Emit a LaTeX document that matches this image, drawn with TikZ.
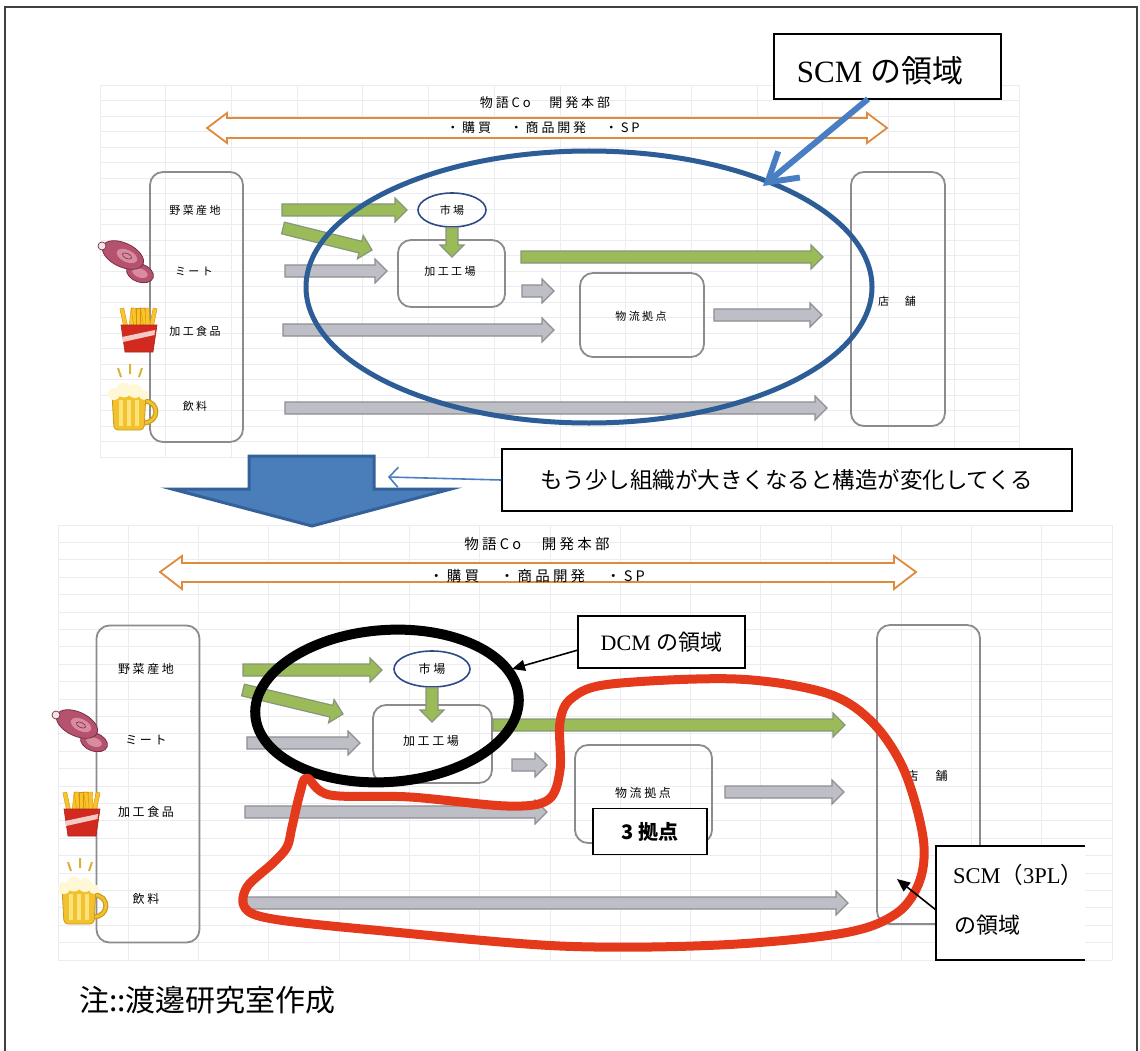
\documentclass[tikz,border=0pt]{standalone}
\usepackage{fontspec}
\setmainfont{Liberation Serif}
\newfontfamily\jp{Noto Sans CJK JP}
\newfontfamily\jpsp{Noto Sans CJK JP}[LetterSpace=22]
\usetikzlibrary{shapes.geometric,arrows.meta,calc}

\definecolor{gridline}{HTML}{ECECF0}
\definecolor{boxgray}{HTML}{8C8C8C}
\definecolor{arrgreen}{HTML}{9BBB59}
\definecolor{arrgreenline}{HTML}{86977A}
\definecolor{arrgray}{HTML}{BEBEC6}
\definecolor{arrgrayline}{HTML}{8E8E94}
\definecolor{hqorange}{HTML}{E08A3C}
\definecolor{mktblue}{HTML}{2F4A86}
\definecolor{scmblue}{HTML}{2D5D97}
\definecolor{calloutblue}{HTML}{4A7EC2}
\definecolor{bigblue}{HTML}{4A7EBB}
\definecolor{bigblueline}{HTML}{34619A}
\definecolor{loopred}{HTML}{E4391B}
\definecolor{meatpink}{HTML}{B5536F}
\definecolor{meatline}{HTML}{7A2E45}
\definecolor{meatlight}{HTML}{D98BA0}
\definecolor{bonewhite}{HTML}{F3E4E8}
\definecolor{fryyellow}{HTML}{F7C52B}
\definecolor{fryline}{HTML}{D98E0B}
\definecolor{boxred}{HTML}{D32A1F}
\definecolor{beeryellow}{HTML}{F2C12E}
\definecolor{beerline}{HTML}{C99A1E}
\definecolor{beerlight}{HTML}{FBE27A}
\definecolor{foam}{HTML}{FFF8D6}
\definecolor{beerray}{HTML}{D7B33A}

% block arrow (shaft 12pt, head 24pt wide, 12pt long) between two points
\newcommand\flowarrow[3]{%
  \path[#1] let \p1=($(#3)-(#2)$), \n1={atan2(\y1,\x1)} in
    ($(#2)+({\n1+90}:6pt)$)
    -- ($(#3)+({\n1+180}:12pt)+({\n1+90}:6pt)$)
    -- ($(#3)+({\n1+180}:12pt)+({\n1+90}:12pt)$)
    -- (#3)
    -- ($(#3)+({\n1+180}:12pt)+({\n1-90}:12pt)$)
    -- ($(#3)+({\n1+180}:12pt)+({\n1-90}:6pt)$)
    -- ($(#2)+({\n1-90}:6pt)$) -- cycle;%
}

\tikzset{
  flow/.style={line width=1.2pt, line join=miter},
  gflow/.style={flow, fill=arrgreen, draw=arrgreenline},
  aflow/.style={flow, fill=arrgray, draw=arrgrayline},
  unit/.style={draw=boxgray, line width=1.8pt, rounded corners=13pt, inner sep=0pt},
  lbltop/.style={font=\jpsp\fontsize{11}{13}\selectfont, inner sep=0pt},
  lblbot/.style={font=\jpsp\fontsize{12}{14}\selectfont, inner sep=0pt},
  hqtop/.style={font=\jpsp\fontsize{13}{15}\selectfont, inner sep=0pt},
  hqbot/.style={font=\jpsp\fontsize{14.5}{16}\selectfont, inner sep=0pt},
  callout/.style={draw=black, line width=1.5pt, fill=white, inner sep=0pt},
  hqband/.style={draw=hqorange, line width=1.8pt, fill=white},
  meat/.pic={
    \draw[meatline, line width=0.8pt, fill=meatpink, shift={(17,18)}, rotate=-20] (0,0) ellipse (14 and 9);
    \fill[meatlight, shift={(17,18)}, rotate=-20] (0,0) ellipse (8 and 4.5);
    \draw[meatline, line width=0.8pt, fill=meatpink, rotate=-25] (0,0) ellipse (22 and 12);
    \fill[meatlight, shift={(4,1)}, rotate=-25] (0,0) ellipse (11 and 6);
    \draw[meatline, line width=0.6pt, shift={(4,1)}, rotate=-25] (0,0) ellipse (5 and 2.5);
    \draw[meatline, line width=0.7pt, fill=bonewhite] (-21,-9) circle (4);
  },
  fries/.pic={
    \foreach \x/\a in {-13/12, -8/-6, -3/8, 2/-4, 7/10, 12/-12, -1/0, 9/2}
      \draw[fryline, fill=fryyellow, line width=0.4pt, shift={(\x,0)}, rotate=\a] (-2,-20) rectangle (2,2);
    \draw[boxred!80!black, line width=0.6pt, fill=boxred] (-18,-3) -- (18,-3) -- (14,24) -- (-14,24) -- cycle;
    \fill[white!75!boxred] (-17,9) -- (16,2) -- (15.5,7) -- (-16,14) -- cycle;
  },
  beer/.pic={
    \draw[beerray, line width=2pt] (-12,-38) -- (-9,-29) (0,-42) -- (0,-32) (12,-38) -- (9,-29);
    \draw[beerline, line width=5pt] (14,-5) .. controls (30,-5) and (30,17) .. (13,17);
    \draw[beeryellow, line width=2.6pt] (14,-5) .. controls (30,-5) and (30,17) .. (13,17);
    \draw[beerline, line width=0.8pt, fill=beeryellow, rounded corners=4pt] (-18,-12) -- (16,-12) -- (14,24) -- (-16,24) -- cycle;
    \foreach \x in {-9,-1,7} \fill[beerlight] (\x-1.6,-6) rectangle (\x+1.6,20);
    \fill[foam] (-16,-12) circle (6) (-6,-16) circle (7.5) (5,-15) circle (7) (14,-11) circle (5);
  }
}

\begin{document}
\begin{tikzpicture}[x=1pt,y=-1pt]
\useasboundingbox (0,0) rectangle (1140,1051);
\fill[white] (0,0) rectangle (1140,1051);

% spreadsheet cell lines behind both charts
\foreach \k in {0,...,14} \draw[gridline, line width=0.7pt] ({100+65.7*\k},85) -- ({100+65.7*\k},458);
\foreach \k in {0,...,24} \draw[gridline, line width=0.7pt] (100,{85+15.5*\k}) -- (1020,{85+15.5*\k});
\foreach \k in {0,...,15} \draw[gridline, line width=0.7pt] ({58+70.27*\k},525) -- ({58+70.27*\k},960);
\foreach \k in {0,...,25} \draw[gridline, line width=0.7pt] (58,{525+17.4*\k}) -- (1112,{525+17.4*\k});

% page frame
\draw[line width=1.5pt, black!75] (5,1051) -- (5,7) -- (1137,7) -- (1137,1051);

% ================= upper chart =================
\node[hqtop] (hq1) at (545,103) {物語Co　開発本部};
\draw[hqband] (207,128) -- (227,113) -- (227,118) -- (867,118) -- (867,113) -- (887,128)
  -- (867,143) -- (867,138) -- (227,138) -- (227,143) -- cycle;
\node[hqtop] (tasks1) at (543,128) {・購買　・商品開発　・SP};

\node[unit, minimum width=93pt, minimum height=270pt] (src1) at (196.5,307) {};
\node[unit, minimum width=94pt, minimum height=254pt] (shop1) at (898,299) {};
\node[unit, minimum width=107pt, minimum height=67pt] (fac1) at (451.5,273.5) {};
\node[unit, minimum width=124pt, minimum height=84pt] (hub1) at (642,315) {};
\node[ellipse, draw=mktblue, line width=1.6pt, minimum width=68pt, minimum height=34pt, inner sep=0pt] (mkt1) at (452,210) {};

\node[lbltop] (veg1) at (195,210) {野菜産地};
\node[lbltop] (meat1) at (194,271) {ミート};
\node[lbltop] (proc1) at (195,331) {加工食品};
\node[lbltop] (drink1) at (195,406) {飲料};
\node[lbltop] (mktl1) at (452,210) {市場};
\node[lbltop] (facl1) at (450,271) {加工工場};
\node[lbltop] (hubl1) at (641,316) {物流拠点};
\node[lbltop] (shopl1) at (897,301) {店　舗};

\pic (meaticon1) at (123,255) {meat};
\pic (friesicon1) at (139,328) {fries};
\pic (beericon1) at (130,406) {beer};

\coordinate (u1a) at (282,210); \coordinate (u1b) at (407,210);
\coordinate (u2a) at (283,228); \coordinate (u2b) at (372,250);
\coordinate (u3a) at (285,271); \coordinate (u3b) at (387,271);
\coordinate (u4b) at (452,257);
\coordinate (u5a) at (521,257); \coordinate (u5b) at (823,257);
\coordinate (u6a) at (522,291); \coordinate (u6b) at (554,291);
\coordinate (u7a) at (283,330); \coordinate (u7b) at (554,330);
\coordinate (u8a) at (714,315); \coordinate (u8b) at (822,315);
\coordinate (u9a) at (285,408); \coordinate (u9b) at (827,408);
\flowarrow{gflow}{u1a}{u1b}
\flowarrow{gflow}{u2a}{u2b}
\flowarrow{aflow}{u3a}{u3b}
\flowarrow{gflow}{mkt1.south}{u4b}
\flowarrow{gflow}{u5a}{u5b}
\flowarrow{aflow}{u6a}{u6b}
\flowarrow{aflow}{u7a}{u7b}
\flowarrow{aflow}{u8a}{u8b}
\flowarrow{aflow}{u9a}{u9b}

% SCM zone
\node[ellipse, draw=scmblue, line width=5pt, minimum width=566pt, minimum height=272pt, inner sep=0pt] (scmzone) at (589,287) {};
\node[callout, minimum width=227pt, minimum height=65pt] (scmbox) at (887.5,66.5) {};
\node[inner sep=0pt, font=\fontsize{31}{34}\selectfont] (scmtext) at (880,71) {SCM {\jp の領域}};
\coordinate (scmtail) at (868,99);
\coordinate (scmtip) at (763,186);
\draw[calloutblue, line width=6pt, -{Straight Barb[length=28pt,width=34pt]}] (scmtail) -- (scmtip);

% ================= transition =================
\draw[bigblueline, line width=3pt, fill=bigblue, line join=miter] (249,456) -- (374,456) -- (374,489) -- (451,489)
  -- (312,526) -- (172,489) -- (249,489) -- cycle;
\node[callout, minimum width=570pt, minimum height=62pt, font=\jp\fontsize{22.5}{26}\selectfont] (morebox) at (787,480) {もう少し組織が大きくなると構造が変化してくる};
\coordinate (thintip) at (388,477);
\draw[calloutblue, line width=1.6pt, -{Straight Barb[length=9pt,width=20pt]}] (morebox.west) -- (thintip);

% ================= lower chart =================
\node[hqbot] (hq2) at (537,544) {物語Co　開発本部};
\draw[hqband] (160,572) -- (182,556) -- (182,563) -- (894,563) -- (894,556) -- (916,572)
  -- (894,589) -- (894,582) -- (182,582) -- (182,589) -- cycle;
\node[hqbot] (tasks2) at (537,576) {・購買　・商品開発　・SP};

\node[unit, minimum width=103pt, minimum height=317pt] (src2) at (148,784) {};
\node[unit, minimum width=103pt, minimum height=299pt] (shop2) at (928.5,774.5) {};
\node[unit, minimum width=119pt, minimum height=78pt] (fac2) at (432.5,744) {};
\node[unit, minimum width=137pt, minimum height=98pt] (hub2) at (643.5,794) {};
\node[ellipse, draw=mktblue, line width=1.6pt, minimum width=76pt, minimum height=36pt, inner sep=0pt] (mkt2) at (432,669) {};

\node[lblbot] (veg2) at (146,669) {野菜産地};
\node[lblbot] (meat2) at (146,740) {ミート};
\node[lblbot] (proc2) at (146,812) {加工食品};
\node[lblbot] (drink2) at (146,899) {飲料};
\node[lblbot] (mktl2) at (432,669) {市場};
\node[lblbot] (facl2) at (431,741) {加工工場};
\node[lblbot] (hubl2) at (643,793) {物流拠点};
\node[lblbot] (shopl2) at (927,776) {店　舗};

\pic (meaticon2) at (77,724) {meat};
\pic (friesicon2) at (82,812) {fries};
\pic (beericon2) at (80,900) {beer};

\coordinate (l1a) at (243,670); \coordinate (l1b) at (382,670);
\coordinate (l2a) at (243,690); \coordinate (l2b) at (343,714);
\coordinate (l3a) at (247,743); \coordinate (l3b) at (360,743);
\coordinate (l4b) at (432,722);
\coordinate (l5a) at (493,725); \coordinate (l5b) at (845,725);
\coordinate (l6a) at (512,765); \coordinate (l6b) at (547,765);
\coordinate (l7a) at (245,812); \coordinate (l7b) at (547,812);
\coordinate (l8a) at (725,792); \coordinate (l8b) at (844,792);
\coordinate (l9a) at (247,903); \coordinate (l9b) at (848,903);
\flowarrow{gflow}{l1a}{l1b}
\flowarrow{gflow}{l2a}{l2b}
\flowarrow{aflow}{l3a}{l3b}
\flowarrow{gflow}{mkt2.south}{l4b}
\flowarrow{gflow}{l5a}{l5b}
\flowarrow{aflow}{l6a}{l6b}
\flowarrow{aflow}{l7a}{l7b}
\flowarrow{aflow}{l8a}{l8b}
\flowarrow{aflow}{l9a}{l9b}

\node[callout, minimum width=114pt, minimum height=46pt, font=\jp\bfseries\fontsize{20}{24}\selectfont] (pt3box) at (650,831.5) {3 拠点};

% DCM zone
\node[ellipse, draw=black, line width=10pt, minimum width=264pt, minimum height=152pt, inner sep=0pt, rotate=4] (dcmzone) at (387,706) {};
\node[callout, minimum width=167pt, minimum height=52pt, font=\fontsize{22}{26}\selectfont] (dcmbox) at (661.5,642) {DCM {\jp の領域}};
\coordinate (dcmtail) at (578,650);
\coordinate (dcmtip) at (512,669);
\draw[line width=1.6pt, -{Triangle[length=13pt,width=11pt]}] (dcmtail) -- (dcmtip);

% 3PL zone
\draw[loopred, line width=9pt, line join=round] plot[smooth cycle, tension=0.55] coordinates {
  (307,778) (330,795) (410,797) (507,806) (548,800) (560,770) (560,722) (572,698)
  (611,684) (736,679) (826,693) (872,722) (904,770) (923,837) (920,880) (897,913)
  (844,933) (719,945) (560,946) (373,930) (273,919) (245,908) (247,887) (273,863)
  (287,847) (292,827) (300,793)};
\fill[white] (936,846) rectangle (1085,960);
\draw[line width=1.5pt] (1085,846) -- (936,846) -- (936,960) -- (1085,960);
\node[anchor=west, inner sep=0pt, font=\fontsize{22.5}{26}\selectfont] (scm3pl) at (953,875) {SCM{\jp （}3PL{\jp ）}};
\node[anchor=west, inner sep=0pt, font=\jp\fontsize{22}{26}\selectfont] (scm3pl2) at (954,925) {の領域};
\coordinate (pltail) at (936,910);
\coordinate (pltip) at (897,879);
\draw[line width=1.6pt, -{Triangle[length=13pt,width=11pt]}] (pltail) -- (pltip);

% note
\node[anchor=west, inner sep=0pt, font=\jp\fontsize{30}{33}\selectfont] (note) at (79,1000) {注::渡邊研究室作成};
\end{tikzpicture}
\end{document}
